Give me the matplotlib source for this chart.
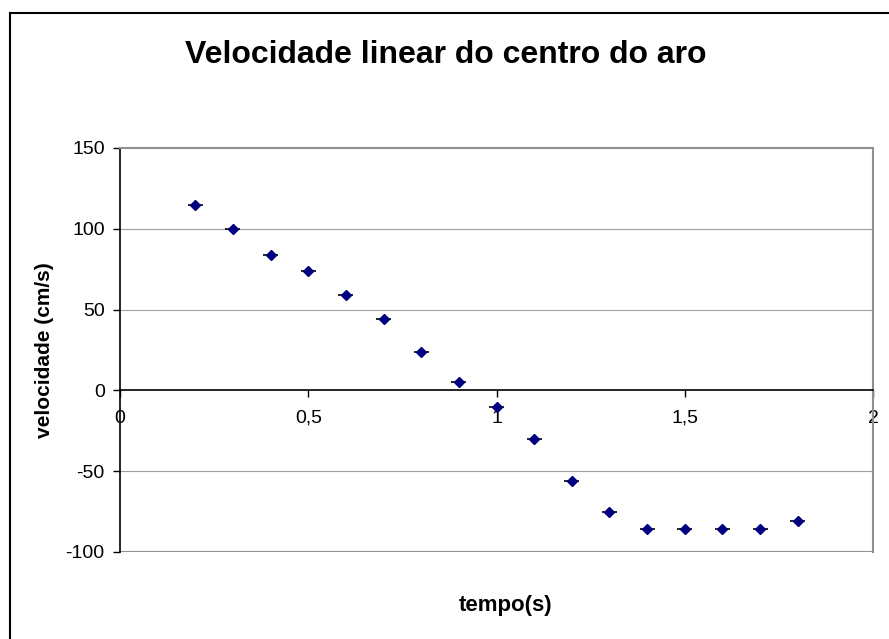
import matplotlib
matplotlib.use("Agg")
import matplotlib.pyplot as plt
from matplotlib.patches import Rectangle

plt.rcParams['font.family'] = ['Liberation Sans', 'DejaVu Sans']
plt.rcParams['axes.unicode_minus'] = False

tempo = [0.2, 0.3, 0.4, 0.5, 0.6, 0.7, 0.8, 0.9, 1.0, 1.1, 1.2, 1.3, 1.4, 1.5, 1.6, 1.7, 1.8]
velocidade = [115, 100, 84, 74, 59, 44, 24, 5, -10, -30, -56, -75, -86, -86, -86, -86, -81]
x_err = 0.02
x_ticks = [0, 0.5, 1, 1.5, 2]
x_tick_labels = ["0", "0,5", "1", "1,5", "2"]
y_ticks = [-100, -50, 0, 50, 100, 150]
y_tick_labels = ["-100", "-50", "0", "50", "100", "150"]

W, H = 889, 639
fig = plt.figure(figsize=(W / 100, H / 100), dpi=100)
fig.patch.set_facecolor('white')

# outer chart border
fig.patches.append(Rectangle((10 / W, -0.05), 1.2, 1 - 13 / H + 0.05,
                             transform=fig.transFigure, fill=False,
                             edgecolor='black', linewidth=1.5, clip_on=False))

ax = fig.add_axes([120 / W, (H - 552) / H, (873 - 120) / W, (552 - 148) / H])
ax.set_xlim(0, 2)
ax.set_ylim(-100, 150)

for y in [-50, 50, 100]:
    ax.axhline(y, color='#a0a0a0', linewidth=0.8, zorder=0)
ax.axhline(-100, color='#909090', linewidth=1.5, zorder=0)

ax.errorbar(tempo, velocidade, xerr=x_err, fmt='D', color='#000080',
            markersize=5.5, ecolor='black', elinewidth=1.2, capsize=0, zorder=3)

ax.spines['bottom'].set_position(('data', 0))
ax.spines['bottom'].set_color('black')
ax.spines['bottom'].set_linewidth(1.2)
ax.spines['left'].set_color('black')
ax.spines['left'].set_linewidth(1.2)
ax.spines['top'].set_color('#909090')
ax.spines['top'].set_linewidth(1.5)
ax.spines['right'].set_color('#909090')
ax.spines['right'].set_linewidth(1.5)

ax.set_xticks(x_ticks)
ax.set_xticklabels(x_tick_labels)
ax.set_yticks(y_ticks)
ax.set_yticklabels(y_tick_labels)
ax.tick_params(axis='both', direction='out', length=5, width=1, labelsize=14, colors='black')
ax.tick_params(axis='y', pad=6)
ax.tick_params(axis='x', pad=9)

fig.text(446 / W, 1 - 55 / H, "Velocidade linear do centro do aro", ha='center', va='center',
         fontsize=23, fontweight='bold')
fig.text(506 / W, 1 - 605 / H, "tempo(s)", ha='center', va='center',
         fontsize=16, fontweight='bold')
fig.text(45 / W, 1 - 350 / H, "velocidade (cm/s)", ha='center', va='center',
         rotation=90, fontsize=15, fontweight='bold')

fig.savefig("out.png", dpi=100)
